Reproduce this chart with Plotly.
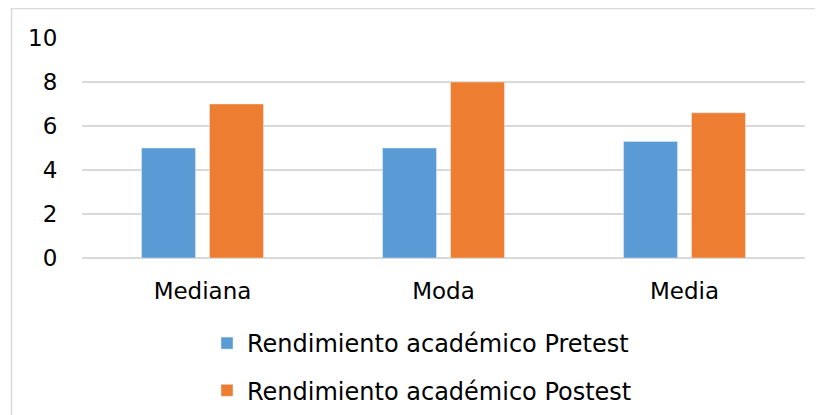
import plotly.graph_objects as go

categories = ["Mediana", "Moda", "Media"]
pretest = [5, 5, 5.3]
postest = [7, 8, 6.6]
series_names = ["Rendimiento académico Pretest", "Rendimiento académico Postest"]
tick_vals = [0, 2, 4, 6, 8, 10]

# page has an 8px body margin, so figure is 815x407 and coords are page-8
W, H = 815, 407
L, R, T, B = 74, 18, 30, 157
pw, ph = W - L - R, H - T - B

def px_x(p):
    return (p - L) / pw

def px_y(p):
    return (H - B - p) / ph

fig = go.Figure()
fig.add_trace(go.Bar(x=categories, y=pretest, name=series_names[0],
                     marker_color="#5B9BD5", legendgroup="a"))
fig.add_trace(go.Bar(x=categories, y=postest, name=series_names[1],
                     marker_color="#ED7D31", legendgroup="b"))

font = "DejaVu Sans, Verdana, sans-serif"
fig.update_layout(
    width=W, height=H,
    margin=dict(l=L, r=R, t=T, b=B, autoexpand=False),
    paper_bgcolor="white", plot_bgcolor="white",
    barmode="group", bargap=0.436, bargroupgap=0.206,
    font=dict(family=font, size=23, color="#000000"),
    showlegend=True,
    legend=dict(orientation="v", x=px_x(199), xanchor="left",
                y=px_y(313), yanchor="top", tracegroupgap=13,
                font=dict(size=24, family=font), bgcolor="rgba(0,0,0,0)"),
    xaxis=dict(showgrid=False, showline=False, ticks="outside", ticklen=12,
               tickcolor="rgba(0,0,0,0)", tickfont=dict(size=23)),
    yaxis=dict(range=[0, 10], tickvals=tick_vals, showgrid=True,
               gridcolor="#D9D9D9", gridwidth=1.5, zeroline=True,
               zerolinecolor="#D9D9D9", zerolinewidth=1.5, showline=False,
               ticks="outside", ticklen=19, tickcolor="rgba(0,0,0,0)",
               tickfont=dict(size=23)),
    shapes=[dict(type="rect", xref="paper", yref="paper",
                 x0=px_x(3.5), x1=px_x(830), y0=px_y(430), y1=px_y(0.5),
                 line=dict(color="#D9D9D9", width=1.5), fillcolor="rgba(0,0,0,0)",
                 layer="below")],
)

fig.write_html("out.html")
